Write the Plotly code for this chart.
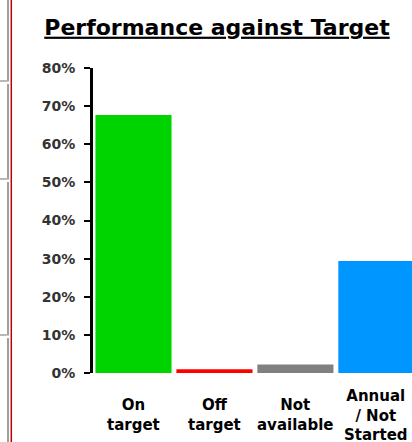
import plotly.graph_objects as go

categories = ["On target", "Off target", "Not available", "Annual / Not Started"]
category_labels = ["On<br>target", "Off<br>target", "Not<br>available", "Annual<br>/ Not<br>Started"]
values = [67.7, 1.0, 2.2, 29.4]
colors = ["#00D400", "#FF0000", "#808080", "#0096FF"]
tick_vals = [0, 10, 20, 30, 40, 50, 60, 70, 80]
tick_text = [f"{v}%" for v in tick_vals]

W, H = 412, 442
L, R, T, B = 93, 0, 68, 69
PW, PH = W - L - R, H - T - B

def px_x(px):
    return (px - L) / PW

def px_y(py):
    return (H - B - py) / PH

fig = go.Figure()
fig.add_trace(go.Bar(
    x=categories, y=values,
    marker=dict(color=colors, line=dict(width=0)),
    width=0.94,
    hoverinfo="skip",
))

shapes = []
# page border artifacts at the left edge
shapes.append(dict(type="line", xref="paper", yref="paper", x0=px_x(8), x1=px_x(8),
                   y0=px_y(0), y1=px_y(442), line=dict(color="#A0A0A0", width=2)))
shapes.append(dict(type="line", xref="paper", yref="paper", x0=px_x(11.3), x1=px_x(11.3),
                   y0=px_y(0), y1=px_y(442), line=dict(color="#C00000", width=1.5)))
for yy in [81, 179, 335]:
    shapes.append(dict(type="line", xref="paper", yref="paper", x0=px_x(0), x1=px_x(8),
                       y0=px_y(yy), y1=px_y(yy), line=dict(color="#A0A0A0", width=1.5)))
    shapes.append(dict(type="line", xref="paper", yref="paper", x0=px_x(8), x1=px_x(8),
                       y0=px_y(yy + 0.5), y1=px_y(yy + 3), line=dict(color="white", width=3)))

annotations = []
for c, lab in zip(categories, category_labels):
    annotations.append(dict(
        x=c, xref="x", y=px_y(415), yref="paper",
        text=f"<b>{lab}</b>", showarrow=False, yanchor="middle", xanchor="center",
        font=dict(family="DejaVu Sans", size=15, color="black"),
    ))

fig.update_layout(
    width=W, height=H,
    margin=dict(l=L, r=R, t=T, b=B, pad=0),
    paper_bgcolor="white", plot_bgcolor="white",
    showlegend=False,
    bargap=0.06,
    title=dict(
        text="<b><u>Performance against Target</u></b>",
        x=217 / W, xanchor="center", y=1 - 27 / H, yanchor="middle",
        xref="container", yref="container",
        font=dict(family="DejaVu Sans", size=22, color="black"),
    ),
    xaxis=dict(
        range=[-0.5, 3.44], showticklabels=False, showgrid=False, zeroline=False,
        showline=False, ticks="", fixedrange=True,
    ),
    yaxis=dict(
        range=[0, 80], tickvals=tick_vals, ticktext=tick_text,
        showgrid=False, zeroline=False, showline=True, linecolor="black", linewidth=3,
        ticks="outside", ticklen=6, tickwidth=2, tickcolor="black",
        tickfont=dict(family="DejaVu Sans", size=14, color="#333333", weight="bold"),
        ticklabelstandoff=6,
    ),
    shapes=shapes,
    annotations=annotations,
)

fig.write_html(
    "out.html",
    config={"displayModeBar": False},
    post_script="document.body.style.margin='0px';document.body.style.overflow='hidden';",
)
